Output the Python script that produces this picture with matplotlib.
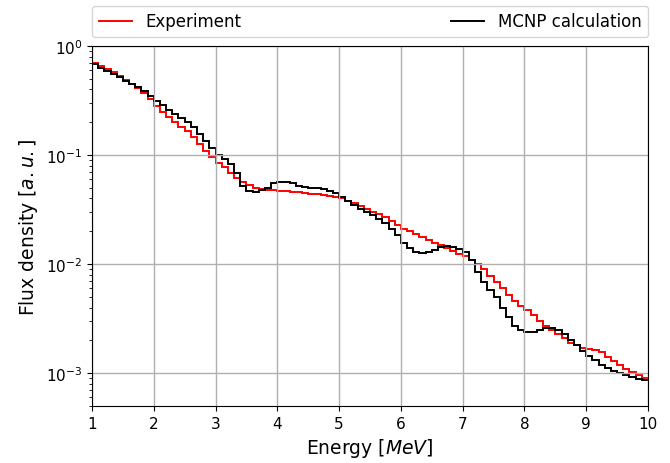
import numpy as np
import matplotlib
matplotlib.use("Agg")
import matplotlib.pyplot as plt

# bin edges 1..10 MeV, 0.1 MeV wide
energy_edges = np.round(np.arange(1.0, 10.0001, 0.1), 2)

experiment = [
    0.70, 0.66, 0.62, 0.58, 0.53, 0.49, 0.45, 0.41, 0.37, 0.33,
    0.28, 0.25, 0.225, 0.20, 0.18, 0.165, 0.145, 0.125, 0.11, 0.095,
    0.085, 0.077, 0.069, 0.062, 0.057, 0.053, 0.050, 0.049, 0.048, 0.048,
    0.047, 0.047, 0.046, 0.046, 0.045, 0.044, 0.044, 0.043, 0.042, 0.041,
    0.040, 0.038, 0.036, 0.034, 0.032, 0.030, 0.029, 0.027, 0.025, 0.023,
    0.021, 0.0200, 0.0188, 0.0177, 0.0165, 0.0157, 0.0149, 0.0142, 0.0133, 0.0124,
    0.0118, 0.0110, 0.0100, 0.0090, 0.0078, 0.0069, 0.0060, 0.0052, 0.0046, 0.0041,
    0.0038, 0.0034, 0.0030, 0.0027, 0.0025, 0.0023, 0.0021, 0.0019, 0.0018, 0.0017,
    0.00168, 0.00162, 0.00155, 0.00142, 0.00130, 0.00120, 0.00110, 0.00102, 0.00096, 0.00090,
]

mcnp = [
    0.69, 0.63, 0.59, 0.55, 0.52, 0.48, 0.45, 0.42, 0.385, 0.345,
    0.31, 0.285, 0.26, 0.24, 0.22, 0.20, 0.18, 0.155, 0.135, 0.115,
    0.100, 0.092, 0.082, 0.068, 0.052, 0.047, 0.046, 0.048, 0.050, 0.055,
    0.057, 0.057, 0.055, 0.052, 0.051, 0.050, 0.050, 0.049, 0.047, 0.045,
    0.041, 0.038, 0.035, 0.032, 0.030, 0.028, 0.026, 0.024, 0.021, 0.0185,
    0.0155, 0.0140, 0.0130, 0.0126, 0.0128, 0.0135, 0.0143, 0.0146, 0.0145, 0.0138,
    0.0128, 0.0110, 0.0085, 0.0068, 0.0058, 0.0050, 0.0040, 0.0033, 0.0027, 0.0025,
    0.0024, 0.0024, 0.0025, 0.0026, 0.0026, 0.0025, 0.0023, 0.0020, 0.0018, 0.0016,
    0.00145, 0.00132, 0.00120, 0.00112, 0.00105, 0.00100, 0.00096, 0.00092, 0.00089, 0.00086,
]

fig = plt.figure(figsize=(6.7, 4.64), dpi=100)
ax = fig.add_axes([92/670, 1-407/464, 556/670, 360/464])

ax.stairs(experiment, energy_edges, color="red", lw=1.4, label="Experiment", baseline=None)
ax.stairs(mcnp, energy_edges, color="black", lw=1.4, label="MCNP calculation", baseline=None)

ax.set_yscale("log")
ax.set_xlim(1, 10)
ax.set_ylim(5e-4, 1)
ax.set_xticks(range(1, 11))
ax.grid(True, which="major", color="#b0b0b0", lw=1)
ax.tick_params(labelsize=11)
ax.set_xlabel("Energy [$MeV$]", fontsize=13.5)
ax.set_ylabel("Flux density [$a.u.$]", fontsize=13.5)

ax.legend(bbox_to_anchor=(0, 1.025, 1, 0.102), loc="lower left", ncol=2,
          mode="expand", borderaxespad=0, fontsize=12)

fig.savefig("out.png", dpi=100)
